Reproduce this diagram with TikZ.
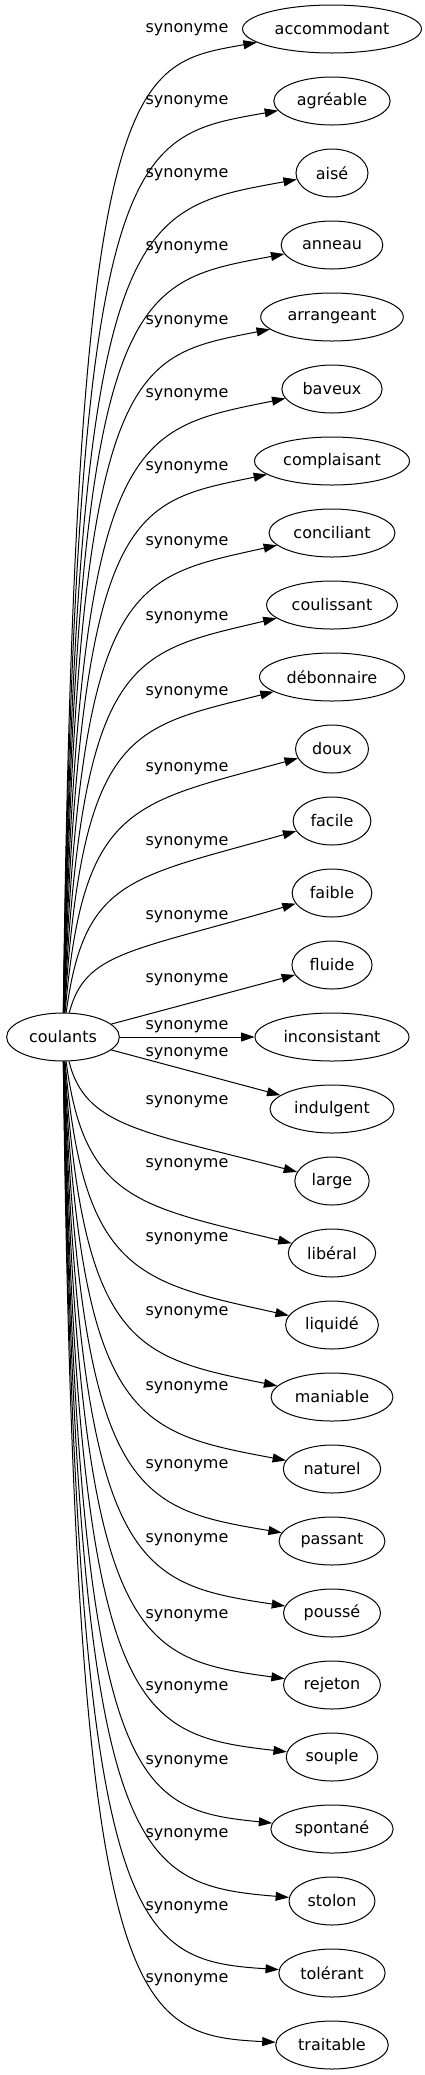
\documentclass[tikz,border=0pt]{standalone}
\usepackage{fontspec}
\setmainfont{DejaVu Sans}
\usetikzlibrary{arrows.meta, shapes.geometric}

\begin{document}
\begin{tikzpicture}[x=0.75pt, y=-0.75pt, line width=0.75pt,
    every node/.style={font=\fontsize{12}{14}\selectfont},
    word/.style={draw, ellipse, minimum width=54pt, minimum height=36pt, inner xsep=4.5pt, inner ysep=2pt},
    syn/.style={-{Triangle[length=10pt, width=6.7pt]}},
    lbl/.style={inner sep=0pt}]
    \useasboundingbox (0,0) rectangle (425,2075);

    % Draw the headword
    \node[word] (coulants) at (63, 1037) {coulants};

    % Draw the synonyms, one row every 72
    \node[word] (accommodant) at (332, 29+72*0) {accommodant};
    \node[word] (agreable) at (332, 29+72*1) {agréable};
    \node[word] (aise) at (332, 29+72*2) {aisé};
    \node[word] (anneau) at (332, 29+72*3) {anneau};
    \node[word] (arrangeant) at (332, 29+72*4) {arrangeant};
    \node[word] (baveux) at (332, 29+72*5) {baveux};
    \node[word] (complaisant) at (332, 29+72*6) {complaisant};
    \node[word] (conciliant) at (332, 29+72*7) {conciliant};
    \node[word] (coulissant) at (332, 29+72*8) {coulissant};
    \node[word] (debonnaire) at (332, 29+72*9) {débonnaire};
    \node[word] (doux) at (332, 29+72*10) {doux};
    \node[word] (facile) at (332, 29+72*11) {facile};
    \node[word] (faible) at (332, 29+72*12) {faible};
    \node[word] (fluide) at (332, 29+72*13) {fluide};
    \node[word] (inconsistant) at (332, 29+72*14) {inconsistant};
    \node[word] (indulgent) at (332, 29+72*15) {indulgent};
    \node[word] (large) at (332, 29+72*16) {large};
    \node[word] (liberal) at (332, 29+72*17) {libéral};
    \node[word] (liquide) at (332, 29+72*18) {liquidé};
    \node[word] (maniable) at (332, 29+72*19) {maniable};
    \node[word] (naturel) at (332, 29+72*20) {naturel};
    \node[word] (passant) at (332, 29+72*21) {passant};
    \node[word] (pousse) at (332, 29+72*22) {poussé};
    \node[word] (rejeton) at (332, 29+72*23) {rejeton};
    \node[word] (souple) at (332, 29+72*24) {souple};
    \node[word] (spontane) at (332, 29+72*25) {spontané};
    \node[word] (stolon) at (332, 29+72*26) {stolon};
    \node[word] (tolerant) at (332, 29+72*27) {tolérant};
    \node[word] (traitable) at (332, 29+72*28) {traitable};

    % Draw the edge labels
    \node[lbl] (l0) at (187, 30) {synonyme};
    \node[lbl] (l1) at (187, 102) {synonyme};
    \node[lbl] (l2) at (187, 175) {synonyme};
    \node[lbl] (l3) at (187, 248) {synonyme};
    \node[lbl] (l4) at (187, 322) {synonyme};
    \node[lbl] (l5) at (187, 395) {synonyme};
    \node[lbl] (l6) at (187, 468) {synonyme};
    \node[lbl] (l7) at (187, 543) {synonyme};
    \node[lbl] (l8) at (187, 618) {synonyme};
    \node[lbl] (l9) at (187, 693) {synonyme};
    \node[lbl] (l10) at (187, 769) {synonyme};
    \node[lbl] (l11) at (187, 843) {synonyme};
    \node[lbl] (l12) at (187, 917) {synonyme};
    \node[lbl] (l13) at (187, 980) {synonyme};
    \node[lbl] (l14) at (187, 1027) {synonyme};
    \node[lbl] (l15) at (187, 1054) {synonyme};
    \node[lbl] (l16) at (187, 1102) {synonyme};
    \node[lbl] (l17) at (187, 1165) {synonyme};
    \node[lbl] (l18) at (187, 1239) {synonyme};
    \node[lbl] (l19) at (187, 1313) {synonyme};
    \node[lbl] (l20) at (187, 1388) {synonyme};
    \node[lbl] (l21) at (187, 1466) {synonyme};
    \node[lbl] (l22) at (187, 1540) {synonyme};
    \node[lbl] (l23) at (187, 1616) {synonyme};
    \node[lbl] (l24) at (187, 1688) {synonyme};
    \node[lbl] (l25) at (187, 1762) {synonyme};
    \node[lbl] (l26) at (187, 1835) {synonyme};
    \node[lbl] (l27) at (187, 1908) {synonyme};
    \node[lbl] (l28) at (187, 1980) {synonyme};

    % Draw the edges going up
    \draw[syn] (coulants) .. controls (75, 30+35) and (130, 30+35) .. (accommodant);
    \draw[syn] (coulants) .. controls (76, 102+35) and (130, 102+35) .. (agreable);
    \draw[syn] (coulants) .. controls (77, 175+35) and (130, 175+35) .. (aise);
    \draw[syn] (coulants) .. controls (77.5, 248+35) and (130, 248+35) .. (anneau);
    \draw[syn] (coulants) .. controls (78, 322+35) and (130, 322+35) .. (arrangeant);
    \draw[syn] (coulants) .. controls (79, 395+35) and (130, 395+35) .. (baveux);
    \draw[syn] (coulants) .. controls (80, 468+35) and (130, 468+35) .. (complaisant);
    \draw[syn] (coulants) .. controls (81, 543+35) and (130, 543+35) .. (conciliant);
    \draw[syn] (coulants) .. controls (82, 618+35) and (130, 618+35) .. (coulissant);
    \draw[syn] (coulants) .. controls (82.5, 693+35) and (130, 693+35) .. (debonnaire);
    \draw[syn] (coulants) .. controls (83, 769+35) and (130, 769+35) .. (doux);
    \draw[syn] (coulants) .. controls (84, 843+35) and (130, 843+35) .. (facile);
    \draw[syn] (coulants) .. controls (85, 917+35) and (130, 917+35) .. (faible);

    % Draw the straight edges
    \draw[syn] (coulants) -- (fluide);
    \draw[syn] (coulants) -- (inconsistant);
    \draw[syn] (coulants) -- (indulgent);

    % Draw the edges going down
    \draw[syn] (coulants) .. controls (85, 1126) and (140, 1131) .. (large);
    \draw[syn] (coulants) .. controls (84, 1200) and (138, 1206) .. (liberal);
    \draw[syn] (coulants) .. controls (83, 1273) and (137, 1282) .. (liquide);
    \draw[syn] (coulants) .. controls (82.5, 1347) and (135, 1357) .. (maniable);
    \draw[syn] (coulants) .. controls (82, 1421) and (134, 1432) .. (naturel);
    \draw[syn] (coulants) .. controls (81, 1494) and (133, 1508) .. (passant);
    \draw[syn] (coulants) .. controls (80, 1568) and (132, 1583) .. (pousse);
    \draw[syn] (coulants) .. controls (79, 1642) and (132, 1658) .. (rejeton);
    \draw[syn] (coulants) .. controls (78, 1715) and (131, 1734) .. (souple);
    \draw[syn] (coulants) .. controls (77.5, 1789) and (131, 1809) .. (spontane);
    \draw[syn] (coulants) .. controls (77, 1863) and (130, 1884) .. (stolon);
    \draw[syn] (coulants) .. controls (76, 1936) and (130, 1960) .. (tolerant);
    \draw[syn] (coulants) .. controls (75, 2010) and (130, 2035) .. (traitable);

\end{tikzpicture}
\end{document}
